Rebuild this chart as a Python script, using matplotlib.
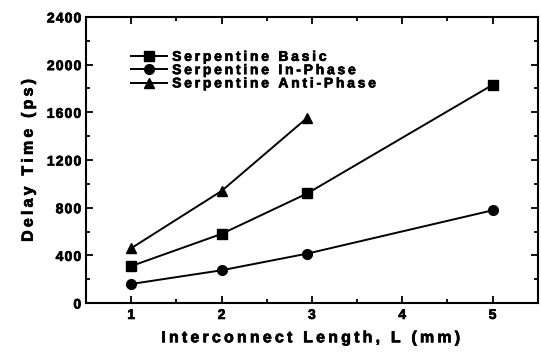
import matplotlib
matplotlib.use('Agg')
import matplotlib.pyplot as plt
import matplotlib.patheffects as pe
from matplotlib.ticker import MultipleLocator, FuncFormatter

# ─── Data ─────────────────────────────────────────────────────────────────────
length_basic = [1, 2, 2.95, 5]
delay_basic  = [310, 580, 920, 1830]

length_inphase = [1, 2, 2.95, 5]
delay_inphase  = [160, 275, 415, 778]

length_anti = [1, 2, 2.95]
delay_anti  = [460, 940, 1555]

plt.rcParams['font.family'] = ['Liberation Sans', 'DejaVu Sans']
plt.rcParams['font.weight'] = 'bold'

# slight stroke so the text looks as heavy as the scanned original
heavy = [pe.withStroke(linewidth=0.5, foreground='black')]


def spaced(s, gap='\u2009'):
    # loose letter spacing, like the scanned figure
    return gap.join(s)


fig = plt.figure(figsize=(5.41, 3.52), dpi=100)
ax = fig.add_axes([0.159, 0.139, 0.835, 0.813])

ax.plot(length_basic, delay_basic, '-s', color='black', lw=1.4, ms=6.5,
        label=spaced('Serpentine Basic'))
ax.plot(length_inphase, delay_inphase, '-o', color='black', lw=1.4, ms=7,
        label=spaced('Serpentine In-Phase'))
ax.plot(length_anti, delay_anti, '-^', color='black', lw=1.4, ms=7,
        label=spaced('Serpentine Anti-Phase'))

ax.set_xlim(0.5, 5.5)
ax.set_ylim(0, 2400)
ax.xaxis.set_major_locator(MultipleLocator(1))
ax.xaxis.set_minor_locator(MultipleLocator(0.5))
ax.yaxis.set_major_locator(MultipleLocator(400))
ax.yaxis.set_minor_locator(MultipleLocator(200))
ax.yaxis.set_major_formatter(FuncFormatter(lambda v, p: spaced(f'{v:.0f}', '\u200a')))
ax.xaxis.set_major_formatter(FuncFormatter(lambda v, p: f'{v:.0f}'))
ax.tick_params(which='both', direction='in', top=True, right=True,
               labelsize=10, width=1.3)
ax.tick_params(which='major', length=5)
ax.tick_params(which='minor', length=3)
for lab in ax.get_xticklabels() + ax.get_yticklabels():
    lab.set_fontweight('bold')
    lab.set_path_effects(heavy)
for s in ax.spines.values():
    s.set_linewidth(1.5)

ax.set_xlabel(spaced('Interconnect Length, L (mm)'),
              fontsize=11.5, fontweight='bold', labelpad=6, path_effects=heavy)
ax.set_ylabel(spaced('Delay Time (ps)'), fontsize=11.5, fontweight='bold',
              labelpad=8, path_effects=heavy)

leg = ax.legend(loc='upper left', bbox_to_anchor=(0.1, 0.885), frameon=False,
                handlelength=2.6, handletextpad=0.35, labelspacing=-0.05,
                prop={'size': 10, 'weight': 'bold'}, borderaxespad=0,
                borderpad=0)
for t in leg.get_texts():
    t.set_path_effects(heavy)

fig.savefig('out.png', dpi=100)
